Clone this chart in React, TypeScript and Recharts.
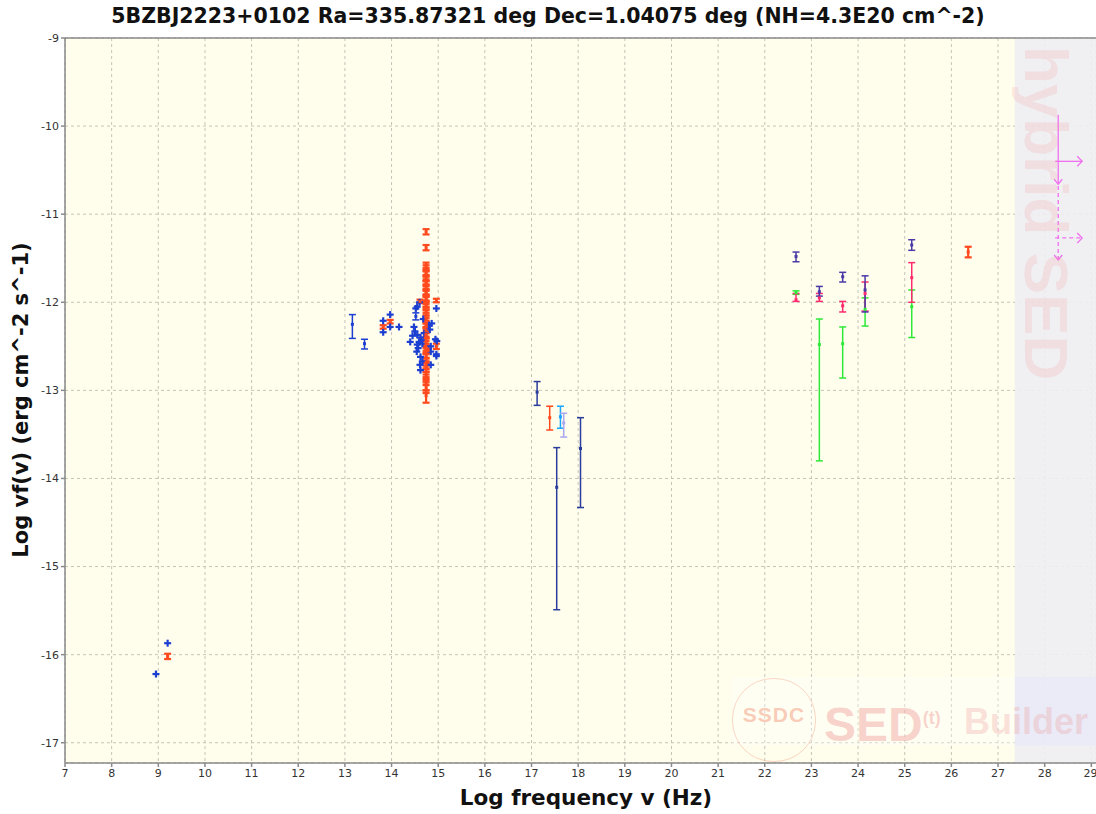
import React from "react";
import {
  ScatterChart,
  Scatter,
  XAxis,
  YAxis,
  CartesianGrid,
  ErrorBar,
  ReferenceArea,
  ReferenceLine,
} from "recharts";

const xTicks = [7, 8, 9, 10, 11, 12, 13, 14, 15, 16, 17, 18, 19, 20, 21, 22, 23, 24, 25, 26, 27, 28, 29];
const yTicks = [-17, -16, -15, -14, -13, -12, -11, -10, -9];

// radio + IR/optical catalogue points (blue)
const blueX = [8.95, 9.2, 13.82, 13.82, 13.97, 13.97, 14.16, 14.55, 14.52, 14.96, 14.68, 14.48, 14.8, 14.82, 14.7, 14.55, 14.62, 14.94, 14.97, 14.4, 14.59, 14.66, 14.55, 14.84, 14.54, 14.84, 14.96, 14.96, 14.62, 14.66, 14.61, 14.84, 14.62, 14.6, 14.57, 14.64, 14.5, 14.86, 14.45];
const blueY = [-16.22, -15.87, -12.21, -12.34, -12.14, -12.28, -12.28, -12.05, -12.07, -12.07, -12.19, -12.28, -12.26, -12.31, -12.35, -12.37, -12.4, -12.42, -12.44, -12.45, -12.45, -12.47, -12.48, -12.5, -12.56, -12.56, -12.59, -12.61, -12.62, -12.67, -12.71, -12.71, -12.77, -12.0, -12.52, -12.43, -12.33, -12.24, -12.38];

// blue points with error bars
const blueBarX = [13.16, 13.42, 14.52];
const blueBarY = [-12.25, -12.47, -12.16];
const blueBarLo = [0.16, 0.06, 0.04];
const blueBarHi = [0.11, 0.05, 0.04];

// red (orange) points
const redX = [9.2, 13.82, 13.97, 14.61, 14.96, 14.96, 14.78, 14.74, 14.74, 14.74, 14.74, 14.74, 14.74, 14.74, 14.74, 14.74, 14.74, 14.74, 14.74, 14.74, 14.74, 14.74, 14.74, 14.74, 14.74, 14.74, 14.74, 14.74, 14.74, 14.74, 14.74, 14.74, 14.74, 14.74, 14.74, 14.74, 14.74, 14.74, 14.74, 14.74, 14.74, 14.74, 14.74, 14.74, 14.74, 14.74, 14.74, 26.36];
const redY = [-16.02, -12.28, -12.22, -11.99, -11.98, -12.5, -12.55, -11.2, -11.38, -11.58, -11.61, -11.66, -11.68, -11.73, -11.77, -11.79, -11.83, -11.88, -11.9, -11.95, -11.97, -12.02, -12.05, -12.09, -12.12, -12.18, -12.21, -12.25, -12.27, -12.32, -12.36, -12.38, -12.44, -12.47, -12.52, -12.55, -12.6, -12.63, -12.68, -12.72, -12.74, -12.8, -12.84, -12.88, -12.93, -12.97, -13.06, -11.43];
const redLo = [0.03, 0.02, 0.02, 0.02, 0.02, 0.03, 0.02, 0.03, 0.03, 0.03, 0.03, 0.03, 0.03, 0.03, 0.03, 0.03, 0.03, 0.03, 0.03, 0.03, 0.03, 0.03, 0.03, 0.03, 0.03, 0.03, 0.03, 0.03, 0.03, 0.03, 0.03, 0.03, 0.03, 0.03, 0.03, 0.03, 0.03, 0.04, 0.04, 0.04, 0.05, 0.05, 0.05, 0.06, 0.07, 0.06, 0.08, 0.06];
const redHi = [0.03, 0.02, 0.02, 0.02, 0.02, 0.03, 0.02, 0.03, 0.03, 0.03, 0.03, 0.03, 0.03, 0.03, 0.03, 0.03, 0.03, 0.03, 0.03, 0.03, 0.03, 0.03, 0.03, 0.03, 0.03, 0.03, 0.03, 0.03, 0.03, 0.03, 0.03, 0.03, 0.03, 0.03, 0.03, 0.03, 0.03, 0.04, 0.04, 0.04, 0.05, 0.05, 0.05, 0.06, 0.06, 0.06, 0.06, 0.06];

// X-ray
const navyX = [17.12, 17.54, 18.05];
const navyY = [-13.02, -14.1, -13.66];
const navyLo = [0.15, 1.39, 0.67];
const navyHi = [0.12, 0.45, 0.35];

const xrtRedX = [17.39];
const xrtRedY = [-13.31];
const xrtRedLo = [0.14];
const xrtRedHi = [0.13];

const cyanX = [17.62];
const cyanY = [-13.3];
const cyanLo = [0.13];
const cyanHi = [0.12];

const lavX = [17.69];
const lavY = [-13.37];
const lavLo = [0.16];
const lavHi = [0.11];

// gamma-ray
const gammaX = [22.67, 23.17, 23.67, 24.15, 25.15];
const purpleY = [-11.48, -11.88, -11.71, -11.86, -11.35];
const purpleLo = [0.06, 0.05, 0.06, 0.25, 0.06];
const purpleHi = [0.05, 0.06, 0.05, 0.16, 0.06];
const pinkY = [-11.97, -11.95, -12.04, -11.9, -11.72];
const pinkLo = [0.02, 0.04, 0.07, 0.2, 0.28];
const pinkHi = [0.07, 0.05, 0.05, 0.13, 0.17];
const greenY = [-11.89, -12.48, -12.47, -12.08, -12.05];
const greenLo = [0.02, 1.32, 0.39, 0.19, 0.35];
const greenHi = [0.02, 0.29, 0.19, 0.13, 0.19];

// hybrid SED (upper limits)
const hybX = [28.29];
const hybSolidY = [-10.4];
const hybSolidLo = [0.26];
const hybSolidHi = [0.53];
const hybDashY = [-11.27];
const hybDashLo = [0.25];
const hybDashHi = [0.61];
const hybTipY = [-10.66, -11.52];

const C = {
  blue: "#1c3fd2",
  red: "#ff4a1e",
  navy: "#2a3c9c",
  cyan: "#1aa6ff",
  lav: "#a8a8f2",
  purple: "#4a3aa8",
  pink: "#ff2a6e",
  green: "#2ee83a",
  magenta: "#f070f0",
};

const build = (xs: number[], ys: number[], lo?: number[], hi?: number[]) =>
  xs.map((x, i) => ({
    x,
    y: ys[i],
    err: lo && hi ? [lo[i], hi[i]] : [0, 0],
  }));

const pairX = (x: number[], n: number) => Array.from({ length: n }, () => x[0]);

const Cross = (props: any) => {
  const { cx, cy, fill } = props;
  if (cx == null || cy == null) return null;
  return (
    <g stroke={fill} strokeWidth={2.2}>
      <line x1={cx - 3.5} x2={cx + 3.5} y1={cy} y2={cy} />
      <line x1={cx} x2={cx} y1={cy - 3.5} y2={cy + 3.5} />
    </g>
  );
};

const Dot = (props: any) => {
  const { cx, cy, fill } = props;
  if (cx == null || cy == null) return null;
  return <rect x={cx - 1.5} y={cy - 1.5} width={3} height={3} fill={fill} />;
};

const ArrowRight = (dashed: boolean) => (props: any) => {
  const { cx, cy } = props;
  if (cx == null || cy == null) return null;
  return (
    <g stroke={C.magenta} strokeWidth={1.3} fill="none">
      <line x1={cx - 3} x2={cx + 24} y1={cy} y2={cy} strokeDasharray={dashed ? "4 3" : undefined} />
      <polyline points={`${cx + 19},${cy - 5} ${cx + 24},${cy} ${cx + 19},${cy + 5}`} />
    </g>
  );
};

const ArrowDown = (props: any) => {
  const { cx, cy } = props;
  if (cx == null || cy == null) return null;
  return (
    <polyline
      points={`${cx - 4},${cy - 5} ${cx},${cy} ${cx + 4},${cy - 5}`}
      stroke={C.magenta}
      strokeWidth={1.3}
      fill="none"
    />
  );
};

const font = "'DejaVu Sans', Verdana, sans-serif";
const wmFont = "'Liberation Sans', Arial, sans-serif";

const App = () => {
  const series = [
    { d: build(blueBarX, blueBarY, blueBarLo, blueBarHi), c: C.blue, shape: Dot, bar: true, sw: 1.5 },
    { d: build(blueX, blueY), c: C.blue, shape: Cross, bar: false, sw: 1.5 },
    { d: build(redX, redY, redLo, redHi), c: C.red, shape: Dot, bar: true, sw: 2.2 },
    { d: build(navyX, navyY, navyLo, navyHi), c: C.navy, shape: Dot, bar: true, sw: 1.5 },
    { d: build(xrtRedX, xrtRedY, xrtRedLo, xrtRedHi), c: C.red, shape: Dot, bar: true, sw: 1.5 },
    { d: build(cyanX, cyanY, cyanLo, cyanHi), c: C.cyan, shape: Dot, bar: true, sw: 1.5 },
    { d: build(lavX, lavY, lavLo, lavHi), c: C.lav, shape: Dot, bar: true, sw: 1.5 },
    { d: build(gammaX, greenY, greenLo, greenHi), c: C.green, shape: Dot, bar: true, sw: 1.5 },
    { d: build(gammaX, pinkY, pinkLo, pinkHi), c: C.pink, shape: Dot, bar: true, sw: 1.5 },
    { d: build(gammaX, purpleY, purpleLo, purpleHi), c: C.purple, shape: Dot, bar: true, sw: 1.5 },
  ];

  return (
    <div style={{ position: "absolute", left: 0, top: 0, width: 1096, height: 814, background: "#fff", fontFamily: font, overflow: "hidden" }}>
      <div style={{ position: "absolute", top: 4, left: 0, width: 1096, textAlign: "center", fontSize: 20.5, fontWeight: "bold", color: "#111" }}>
        5BZBJ2223+0102 Ra=335.87321 deg Dec=1.04075 deg (NH=4.3E20 cm^-2)
      </div>
      <ScatterChart width={1096} height={814} margin={{ top: 38, right: 0, left: 0, bottom: 0 }}>
        <CartesianGrid stroke="#c4c4b8" strokeDasharray="3 3" fill="#fffdeb" />
        <ReferenceArea x1={27.36} x2={29.1} y1={-17.23} y2={-9} fill="#eeeef3" fillOpacity={0.9} stroke="none" ifOverflow="hidden" />
        <ReferenceArea x1={27.36} x2={29.1} y1={-17.03} y2={-16.25} fill="#e8e8fb" fillOpacity={0.6} stroke="none" ifOverflow="hidden" />
        <ReferenceArea x1={21.3} x2={27.36} y1={-17.03} y2={-16.25} fill="#ffffff" fillOpacity={0.35} stroke="none" ifOverflow="hidden" />
        <ReferenceLine y={-9} stroke="#8a8a8a" strokeWidth={1.5} />
        <XAxis
          type="number"
          dataKey="x"
          domain={[7, 29.1]}
          ticks={xTicks}
          allowDataOverflow
          height={51}
          stroke="#8a8a8a"
          strokeWidth={1.5}
          tickSize={4}
          tick={{ fill: "#333", fontSize: 11, fontFamily: font }}
        />
        <YAxis
          type="number"
          dataKey="y"
          domain={[-17.23, -9]}
          ticks={yTicks}
          allowDataOverflow
          width={65}
          stroke="#8a8a8a"
          strokeWidth={1.5}
          tickSize={4}
          tick={{ fill: "#333", fontSize: 11, fontFamily: font }}
        />
        {series.map((s, i) => (
          <Scatter key={i} data={s.d} fill={s.c} shape={s.shape} isAnimationActive={false}>
            {s.bar && <ErrorBar dataKey="err" direction="y" width={3.5} stroke={s.c} strokeWidth={s.sw} />}
          </Scatter>
        ))}
        <Scatter data={build(hybX, hybSolidY, hybSolidLo, hybSolidHi)} fill={C.magenta} shape={ArrowRight(false)} isAnimationActive={false}>
          <ErrorBar dataKey="err" direction="y" width={0} stroke={C.magenta} strokeWidth={1.3} />
        </Scatter>
        <Scatter data={build(hybX, hybDashY, hybDashLo, hybDashHi)} fill={C.magenta} shape={ArrowRight(true)} isAnimationActive={false}>
          <ErrorBar dataKey="err" direction="y" width={0} stroke={C.magenta} strokeWidth={1.3} strokeDasharray="4 3" />
        </Scatter>
        <Scatter data={build(pairX(hybX, 2), hybTipY)} fill={C.magenta} shape={ArrowDown} isAnimationActive={false} />
      </ScatterChart>

      {/* watermarks */}
      <div style={{ position: "absolute", left: 1018, top: 46, width: 56, height: 340, pointerEvents: "none" }}>
        <div style={{ position: "absolute", left: 58, top: 0, transform: "rotate(90deg)", transformOrigin: "0 0", whiteSpace: "nowrap", fontFamily: wmFont, fontSize: 62, fontWeight: "bold", color: "rgba(240,150,160,0.2)", lineHeight: "60px" }}>
          hybrid SED
        </div>
      </div>
      <div style={{ position: "absolute", left: 732, top: 678, width: 82, height: 82, borderRadius: 41, border: "1.5px solid rgba(240,140,110,0.35)", pointerEvents: "none" }}>
        <div style={{ position: "absolute", top: 24, width: 82, textAlign: "center", fontFamily: wmFont, fontSize: 21, fontWeight: "bold", color: "rgba(240,140,110,0.45)", letterSpacing: 1 }}>SSDC</div>
      </div>
      <div style={{ position: "absolute", left: 824, top: 690, fontFamily: wmFont, fontSize: 48, fontWeight: "bold", color: "rgba(235,140,140,0.38)", pointerEvents: "none", whiteSpace: "nowrap", lineHeight: "56px" }}>
        SED<sup style={{ fontSize: 18 }}>(t)</sup>
      </div>
      <div style={{ position: "absolute", left: 964, top: 700, fontFamily: wmFont, fontSize: 36, fontWeight: "bold", color: "rgba(235,150,150,0.3)", pointerEvents: "none", whiteSpace: "nowrap", lineHeight: "44px" }}>
        Builder
      </div>

      <div style={{ position: "absolute", left: 0, top: 785, width: 1172, textAlign: "center", fontSize: 21.5, fontWeight: "bold", color: "#111" }}>
        Log frequency v (Hz)
      </div>
      <div style={{ position: "absolute", left: 21, top: 400, transform: "translate(-50%, -50%) rotate(-90deg)", whiteSpace: "nowrap", fontSize: 21, fontWeight: "bold", color: "#111" }}>
        Log vf(v) (erg cm^-2 s^-1)
      </div>
    </div>
  );
};

export default App;
